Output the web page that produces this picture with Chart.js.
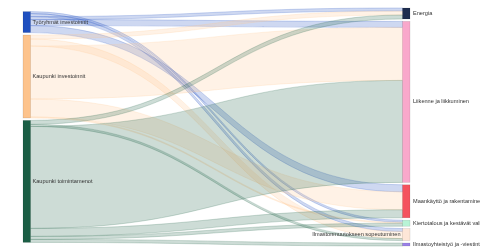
<!DOCTYPE html>
<html>
<head>
<meta charset="utf-8">
<script src="https://cdn.jsdelivr.net/npm/chart.js@4.4.1/dist/chart.umd.min.js"></script>
<style>
  html, body { margin: 0; padding: 0; background: #fff; }
  #wrap { width: 480px; height: 250px; }
</style>
</head>
<body>
<div id="wrap"><canvas id="sankey"></canvas></div>
<script>
// left column = rahoituksen lähde, right column = teemat
const sources = ["Työryhmät investoinnit", "Kaupunki investoinnit", "Kaupunki toimintamenot"];
const targets = [
  "Energia",
  "Liikenne ja liikkuminen",
  "Maankäyttö ja rakentaminen",
  "Kiertotalous ja kestävät valinnat",
  "Ilmastonmuutokseen sopeutuminen",
  "Ilmastoyhteistyö ja -viestintä",
];

// flows in the order they leave each source (top -> bottom)
const flowFrom = [0, 0, 0, 0, 0, 1, 1, 1, 1, 1, 2, 2, 2, 2, 2, 2];
const flowTo = [3, 4, 0, 1, 2, 0, 4, 1, 2, 3, 0, 4, 1, 2, 3, 5];
const flowValue = [2, 3, 3, 6, 7, 4, 7, 53, 18, 1, 4, 2, 102, 8, 3, 3];

// styles
const sourceColors = ["#1f4fbf", "#fdc38c", "#1b5e45"];
const targetColors = ["#1e2c4e", "#f9a8cb", "#f4525e", "#b8f4d6", "#fde6d7", "#9b82e8"];
const labelOnLeft = ["Ilmastonmuutokseen sopeutuminen"];
const NODE_PAD = 2.4;
const NODE_W = 7.5;
const FONT = "5.6px 'Liberation Sans', Arial, sans-serif";

const sum = (arr) => arr.reduce((a, b) => a + b, 0);
const sourceTotals = sources.map((_, i) => sum(flowValue.filter((v, k) => flowFrom[k] === i)));
const targetTotals = targets.map((_, i) => sum(flowValue.filter((v, k) => flowTo[k] === i)));
const colHeight = (totals) => sum(totals) + NODE_PAD * (totals.length - 1);
const yMax = Math.max(colHeight(sourceTotals), colHeight(targetTotals));

// stack nodes of a column, centred in the value range
function stackColumn(totals) {
  let pos = (yMax - colHeight(totals)) / 2;
  return totals.map((t) => {
    const top = pos;
    pos += t + NODE_PAD;
    return top;
  });
}

function rgba(hex, a) {
  const n = parseInt(hex.slice(1), 16);
  return `rgba(${(n >> 16) & 255}, ${(n >> 8) & 255}, ${n & 255}, ${a})`;
}

const sankeyPlugin = {
  id: "sankey",
  afterDatasetsDraw(chart) {
    const { ctx } = chart;
    const xs = chart.scales.x;
    const ys = chart.scales.y;

    const srcTop = stackColumn(sourceTotals);
    const tgtTop = stackColumn(targetTotals);

    // offsets of each flow at its source (data order) and target (source order)
    const srcOff = sourceTotals.map(() => 0);
    const tgtOff = targetTotals.map(() => 0);
    const flows = flowValue.map((v, k) => {
      const s = flowFrom[k];
      const f = { k, s, t: flowTo[k], v, s0: srcTop[s] + srcOff[s] };
      srcOff[s] += v;
      return f;
    });
    const byTarget = [...flows].sort((a, b) => a.t - b.t || a.s - b.s || a.k - b.k);
    byTarget.forEach((f) => {
      f.t0 = tgtTop[f.t] + tgtOff[f.t];
      tgtOff[f.t] += f.v;
    });

    const xL = xs.getPixelForValue(0) + NODE_W;
    const xR = xs.getPixelForValue(1) - NODE_W;
    const xm = (xL + xR) / 2;

    ctx.save();
    // links
    flows.forEach((f) => {
      const a0 = ys.getPixelForValue(f.s0);
      const a1 = ys.getPixelForValue(f.s0 + f.v);
      const b0 = ys.getPixelForValue(f.t0);
      const b1 = ys.getPixelForValue(f.t0 + f.v);
      ctx.beginPath();
      ctx.moveTo(xL, a0);
      ctx.bezierCurveTo(xm, a0, xm, b0, xR, b0);
      ctx.lineTo(xR, b1);
      ctx.bezierCurveTo(xm, b1, xm, a1, xL, a1);
      ctx.closePath();
      ctx.fillStyle = rgba(sourceColors[f.s], 0.22);
      ctx.fill();
      ctx.strokeStyle = rgba(sourceColors[f.s], 0.35);
      ctx.lineWidth = 0.6;
      ctx.stroke();
    });

    // nodes
    const drawNode = (x0, top, total, color) => {
      const p0 = ys.getPixelForValue(top);
      const p1 = ys.getPixelForValue(top + total);
      ctx.fillStyle = color;
      ctx.fillRect(x0, p0, NODE_W, p1 - p0);
      ctx.strokeStyle = "rgba(0,0,0,0.18)";
      ctx.lineWidth = 0.5;
      ctx.strokeRect(x0, p0, NODE_W, p1 - p0);
      return (p0 + p1) / 2;
    };

    ctx.font = FONT;
    ctx.textBaseline = "middle";

    sources.forEach((name, i) => {
      const cy = drawNode(xL - NODE_W, srcTop[i], sourceTotals[i], sourceColors[i]);
      ctx.fillStyle = "#333";
      ctx.textAlign = "left";
      ctx.fillText(name, xL + 2, cy);
    });
    targets.forEach((name, i) => {
      const cy = drawNode(xR, tgtTop[i], targetTotals[i], targetColors[i]);
      ctx.fillStyle = "#333";
      if (labelOnLeft.includes(name)) {
        ctx.textAlign = "right";
        ctx.fillText(name, xR - 2, cy);
      } else {
        ctx.textAlign = "left";
        ctx.fillText(name, xR + NODE_W + 3, cy);
      }
    });
    ctx.restore();
  },
};

new Chart(document.getElementById("sankey"), {
  type: "scatter",
  data: { datasets: [{ data: [] }] },
  options: {
    responsive: true,
    maintainAspectRatio: false,
    animation: false,
    layout: { padding: { left: 23, right: 70, top: 8, bottom: 4 } },
    plugins: { legend: { display: false }, tooltip: { enabled: false } },
    scales: {
      x: { type: "linear", min: 0, max: 1, display: false },
      y: { type: "linear", min: 0, max: yMax, reverse: true, display: false },
    },
  },
  plugins: [sankeyPlugin],
});
</script>
</body>
</html>
